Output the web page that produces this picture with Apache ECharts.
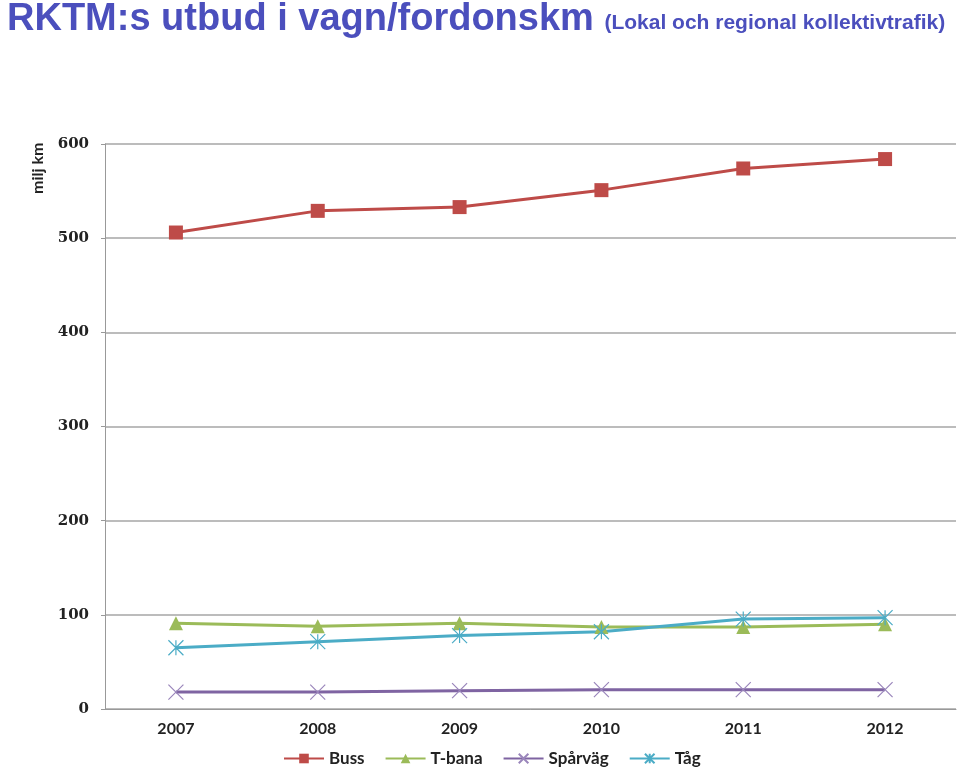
<!DOCTYPE html>
<html>
<head>
<meta charset="utf-8">
<script src="https://cdn.jsdelivr.net/npm/echarts@6/dist/echarts.min.js"></script>
<style>
  html, body { margin: 0; padding: 0; background: #fff; }
  #chart { width: 959px; height: 774px; }
</style>
</head>
<body>
<div id="chart"></div>
<script>
var years = ['2007', '2008', '2009', '2010', '2011', '2012'];
var buss = [506, 529, 533, 551, 574, 584];
var tbana = [91, 88, 91, 87, 87, 90];
var sparvag = [18, 18, 19.5, 20.5, 20.5, 20.5];
var tag = [65, 71.5, 78, 82, 95.5, 97];

var mychart = echarts.init(document.querySelector('#chart'));
option = {
    animation: false,
    backgroundColor: '#fff',
    title: {
        text: 'RKTM:s utbud i vagn/fordonskm {s|(Lokal och regional kollektivtrafik)}',
        left: 2,
        top: -4,
        textStyle: {
            color: '#4b4fbd',
            fontFamily: 'Liberation Sans',
            fontWeight: 'bold',
            fontSize: 38,
            rich: {
                s: { color: '#4b4fbd', fontFamily: 'Liberation Sans', fontWeight: 'bold', fontSize: 21, padding: [6, 0, 0, 0] }
            }
        }
    },
    graphic: [{
        type: 'text',
        x: 30,
        y: 194,
        rotation: Math.PI / 2,
        style: { text: 'milj km', fontFamily: 'Lato', fontWeight: 'bold', fontSize: 16, fill: '#222' }
    }],
    grid: { left: 105, right: 3, top: 144, bottom: 65 },
    legend: {
        bottom: 2,
        left: 278,
        itemWidth: 40,
        itemHeight: 12,
        itemGap: 20,
        textStyle: { fontFamily: 'Lato', fontWeight: 'bold', fontSize: 17, color: '#222' },
        data: ['Buss', 'T-bana', 'Spårväg', 'Tåg']
    },
    xAxis: {
        type: 'category',
        data: years,
        boundaryGap: true,
        axisLine: { lineStyle: { color: '#999' } },
        axisTick: { show: false },
        axisLabel: { fontFamily: 'Lato', fontWeight: 'bold', fontSize: 16, color: '#222', margin: 12 }
    },
    yAxis: {
        type: 'value',
        min: 0,
        max: 600,
        interval: 100,
        axisLine: { show: true, lineStyle: { color: '#999' } },
        axisTick: { show: true, length: 4, lineStyle: { color: '#999' } },
        axisLabel: { fontFamily: 'DejaVu Serif', fontWeight: 'bold', fontSize: 15, color: '#222', margin: 16 },
        splitLine: { lineStyle: { color: '#a6a6a6', width: 1.5 } }
    },
    series: [
        {
            name: 'Buss', type: 'line', data: buss,
            symbol: 'rect', symbolSize: 14,
            lineStyle: { width: 3, color: '#be4b48' },
            itemStyle: { color: '#be4b48' }
        },
        {
            name: 'T-bana', type: 'line', data: tbana,
            symbol: 'triangle', symbolSize: 14,
            lineStyle: { width: 3, color: '#9bbb59' },
            itemStyle: { color: '#9bbb59' }
        },
        {
            name: 'Spårväg', type: 'line', data: sparvag,
            symbol: 'path://M0,0L10,10M10,0L0,10', symbolSize: 15,
            lineStyle: { width: 3, color: '#7f64a2' },
            itemStyle: { color: 'none', borderColor: '#9a86bb', borderWidth: 1.2 }
        },
        {
            name: 'Tåg', type: 'line', data: tag,
            symbol: 'path://M0,0L10,10M10,0L0,10M5,0L5,10', symbolSize: 15,
            lineStyle: { width: 3, color: '#4bacc6' },
            itemStyle: { color: 'none', borderColor: '#4bacc6', borderWidth: 1.2 }
        }
    ]
};
mychart.setOption(option);
</script>
</body>
</html>
